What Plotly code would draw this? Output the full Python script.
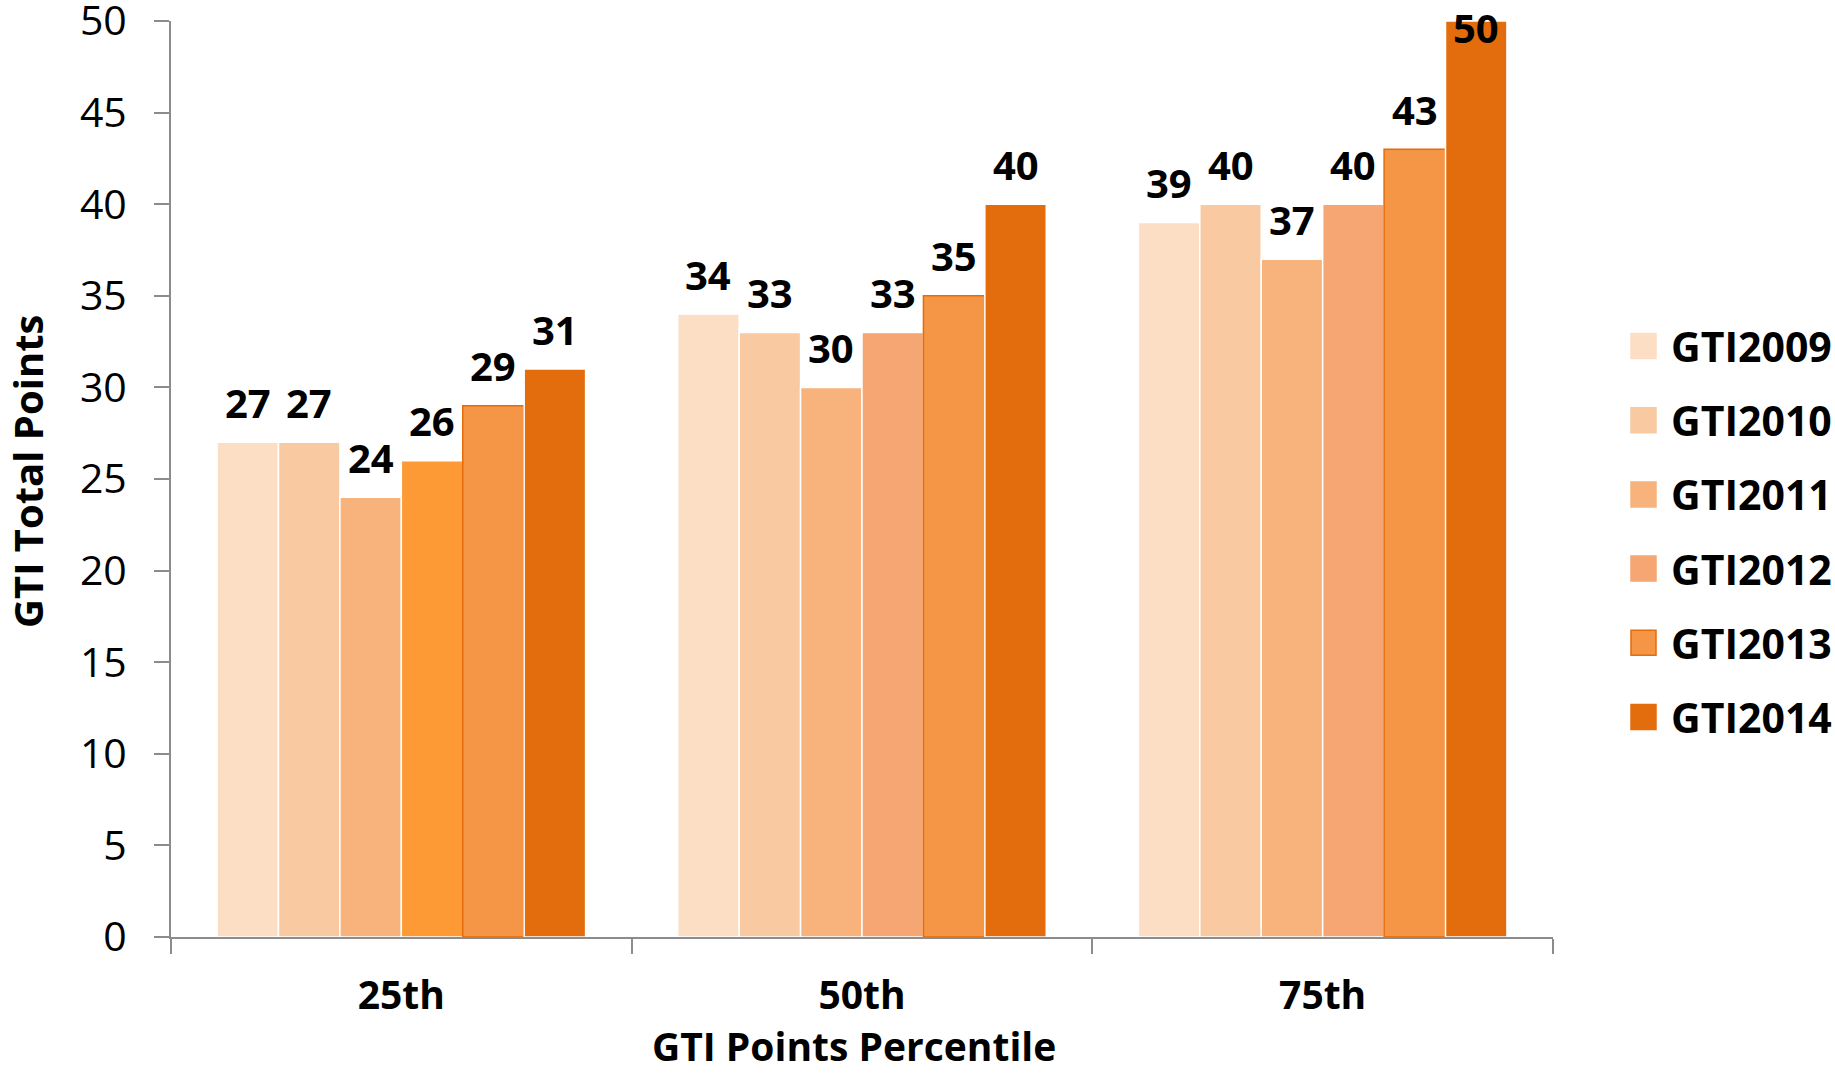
import plotly.graph_objects as go

# Chart data
categories = ["25th", "50th", "75th"]
series_names = ["GTI2009", "GTI2010", "GTI2011", "GTI2012", "GTI2013", "GTI2014"]
gti2009 = [27, 34, 39]
gti2010 = [27, 33, 40]
gti2011 = [24, 30, 37]
gti2012 = [26, 33, 40]
gti2013 = [29, 35, 43]
gti2014 = [31, 40, 50]
series_values = [gti2009, gti2010, gti2011, gti2012, gti2013, gti2014]
y_ticks = [0, 5, 10, 15, 20, 25, 30, 35, 40, 45, 50]

# Styling
fill_colors = ["#FCDEC5", "#F9C9A1", "#F8B27B", "#F6A672", "#F59646", "#E36C0C"]
# per-category fill overrides (GTI2012 in the 25th group is a brighter orange)
bar_fills = [[c] * len(categories) for c in fill_colors]
bar_fills[3][0] = "#FD9A36"
edge_colors = ["white", "white", "white", "white", "#E46C0A", "white"]

FONT = "Open Sans"
W, H = 1835, 1073
M_L, M_R, M_T, M_B = 171, 282, 21, 136
Y_MAX = 50

fig = go.Figure()
for name, vals, fills, edge in zip(series_names, series_values, bar_fills, edge_colors):
    fig.add_trace(go.Bar(
        x=categories, y=vals, name=name,
        marker=dict(color=fills, line=dict(color=edge, width=1.5)),
        showlegend=False,
    ))

# Value labels above each bar, kept inside the canvas at the top
plot_h = H - M_T - M_B
plot_w = W - M_L - M_R
ppu = plot_h / Y_MAX
n = len(series_names)
bar_w = plot_w / len(categories) * 0.8 / n
annotations = []
for i, vals in enumerate(series_values):
    for cat, v in zip(categories, vals):
        bar_top = M_T + (Y_MAX - v) * ppu
        center = max(bar_top - 40, 27)
        annotations.append(dict(
            x=cat, y=v, xref="x", yref="y", text=f"<b>{v}</b>", showarrow=False,
            xshift=(i - (n - 1) / 2) * bar_w, yshift=bar_top - center,
            yanchor="middle", xanchor="center",
            font=dict(family=FONT, size=40, color="black"),
        ))


def px_to_paper(px, py):
    return (px - M_L) / plot_w, 1 - (py - M_T) / plot_h


# Legend drawn as swatches + labels on the right
shapes = []
sq = 25
leg_x0 = 1631
leg_y0 = 346
leg_dy = 74.2
for i, (name, col, edge) in enumerate(zip(series_names, fill_colors, edge_colors)):
    cy = leg_y0 + i * leg_dy
    x0, y0 = px_to_paper(leg_x0, cy + sq / 2)
    x1, y1 = px_to_paper(leg_x0 + sq, cy - sq / 2)
    shapes.append(dict(
        type="rect", xref="paper", yref="paper", x0=x0, x1=x1, y0=y0, y1=y1,
        fillcolor=col, line=dict(color=edge if edge != "white" else col, width=1.5),
    ))
    tx, ty = px_to_paper(1669, cy)
    annotations.append(dict(
        x=tx, y=ty, xref="paper", yref="paper",
        text=f"<b>{name}</b>", showarrow=False, xanchor="left", yanchor="middle",
        font=dict(family=FONT, size=41, color="black"),
    ))

# Axis titles
xt_x, xt_y = px_to_paper(854, 1045)
annotations.append(dict(
    x=xt_x, y=xt_y, xref="paper", yref="paper", text="<b>GTI Points Percentile</b>",
    showarrow=False, xanchor="center", yanchor="middle",
    font=dict(family=FONT, size=39, color="black"),
))
yt_x, yt_y = px_to_paper(28, 472)
annotations.append(dict(
    x=yt_x, y=yt_y, xref="paper", yref="paper", text="<b>GTI Total Points</b>",
    showarrow=False, xanchor="center", yanchor="middle", textangle=-90,
    font=dict(family=FONT, size=40, color="black"),
))

fig.update_layout(
    width=W, height=H,
    margin=dict(l=M_L, r=M_R, t=M_T, b=M_B, autoexpand=False),
    paper_bgcolor="white", plot_bgcolor="white",
    barmode="group", bargap=0.2, bargroupgap=0,
    font=dict(family=FONT, color="black"),
    annotations=annotations, shapes=shapes,
)
fig.update_xaxes(
    showline=True, linecolor="#8C8C8C", linewidth=2,
    ticks="outside", tickson="boundaries", ticklen=15, tickwidth=2, tickcolor="#8C8C8C",
    tickfont=dict(family=FONT, size=39, color="black", weight="bold"),
    ticklabelstandoff=23,
    showgrid=False,
)
fig.update_yaxes(
    range=[0, Y_MAX], tickmode="array", tickvals=y_ticks,
    showline=True, linecolor="#8C8C8C", linewidth=2,
    ticks="outside", ticklen=15, tickwidth=2, tickcolor="#8C8C8C",
    tickfont=dict(family=FONT, size=41, color="black"),
    ticklabelstandoff=19, ticklabeloverflow="allow",
    showgrid=False, zeroline=False,
)

fig.write_html("out.html")
